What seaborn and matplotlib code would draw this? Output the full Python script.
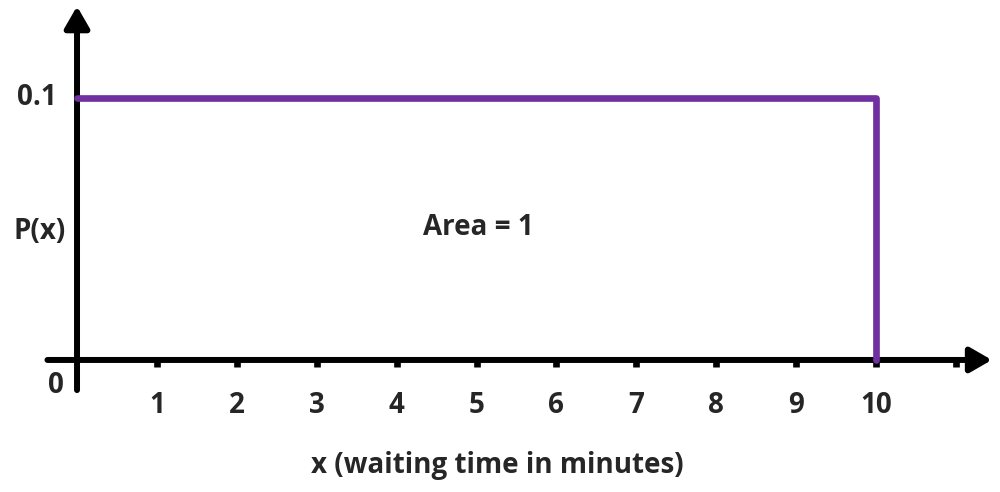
import matplotlib
matplotlib.use('Agg')
import matplotlib.pyplot as plt
import seaborn as sns
import pandas as pd

# uniform distribution, waiting time 0..10 minutes
pdf_x = [0, 10, 10]
pdf_y = [0.1, 0.1, 0]
tick_pos = [1, 2, 3, 4, 5, 6, 7, 8, 9, 10, 11]
tick_labels = ['1', '2', '3', '4', '5', '6', '7', '8', '9', '10', '']
height = 0.1

sns.set_style('white')
plt.rcParams['font.family'] = ['Open Sans', 'DejaVu Sans']

fig = plt.figure(figsize=(10, 4.92), dpi=100)
ax = fig.add_axes([0, 0, 1, 1])
ax.set_xlim(-0.964, 11.552)
ax.set_ylim(-0.0504, 0.1374)
ax.axis('off')

black = 'black'
# axes with arrow heads
head = '-|>,head_length=1.3,head_width=0.75'
ax.annotate('', xy=(11.45, 0), xytext=(-0.37, 0),
            arrowprops=dict(arrowstyle=head, color=black, lw=4.3,
                            shrinkA=0, shrinkB=0))
ax.annotate('', xy=(0, 0.135), xytext=(0, -0.0115),
            arrowprops=dict(arrowstyle=head, color=black, lw=4.3,
                            shrinkA=0, shrinkB=0))

# tick marks below the axis
ax.vlines(tick_pos, -0.0028, 0, colors=black, lw=4.8)

df = pd.DataFrame({'x': pdf_x, 'y': pdf_y})
sns.lineplot(data=df, x='x', y='y', sort=False, estimator=None, errorbar=None,
             color='#7030A0', lw=4.8, ax=ax, zorder=5)

fs = 20
for p, lab in zip(tick_pos, tick_labels):
    ax.text(p, -0.0175, lab, ha='center', va='center', fontsize=fs, fontweight='bold')

ax.text(-0.27, -0.0097, '0', ha='center', va='center', fontsize=fs, fontweight='bold')
ax.text(-0.5, height, '0.1', ha='center', va='center', fontsize=fs, fontweight='bold')
ax.text(-0.47, 0.0489, 'P(x)', ha='center', va='center', fontsize=fs, fontweight='bold')
ax.text(5.02, 0.0504, 'Area = 1', ha='center', va='center', fontsize=fs, fontweight='bold')
ax.text(5.26, -0.0404, 'x (waiting time in minutes)', ha='center', va='center',
        fontsize=fs, fontweight='bold')

plt.savefig('out.png', dpi=100)
